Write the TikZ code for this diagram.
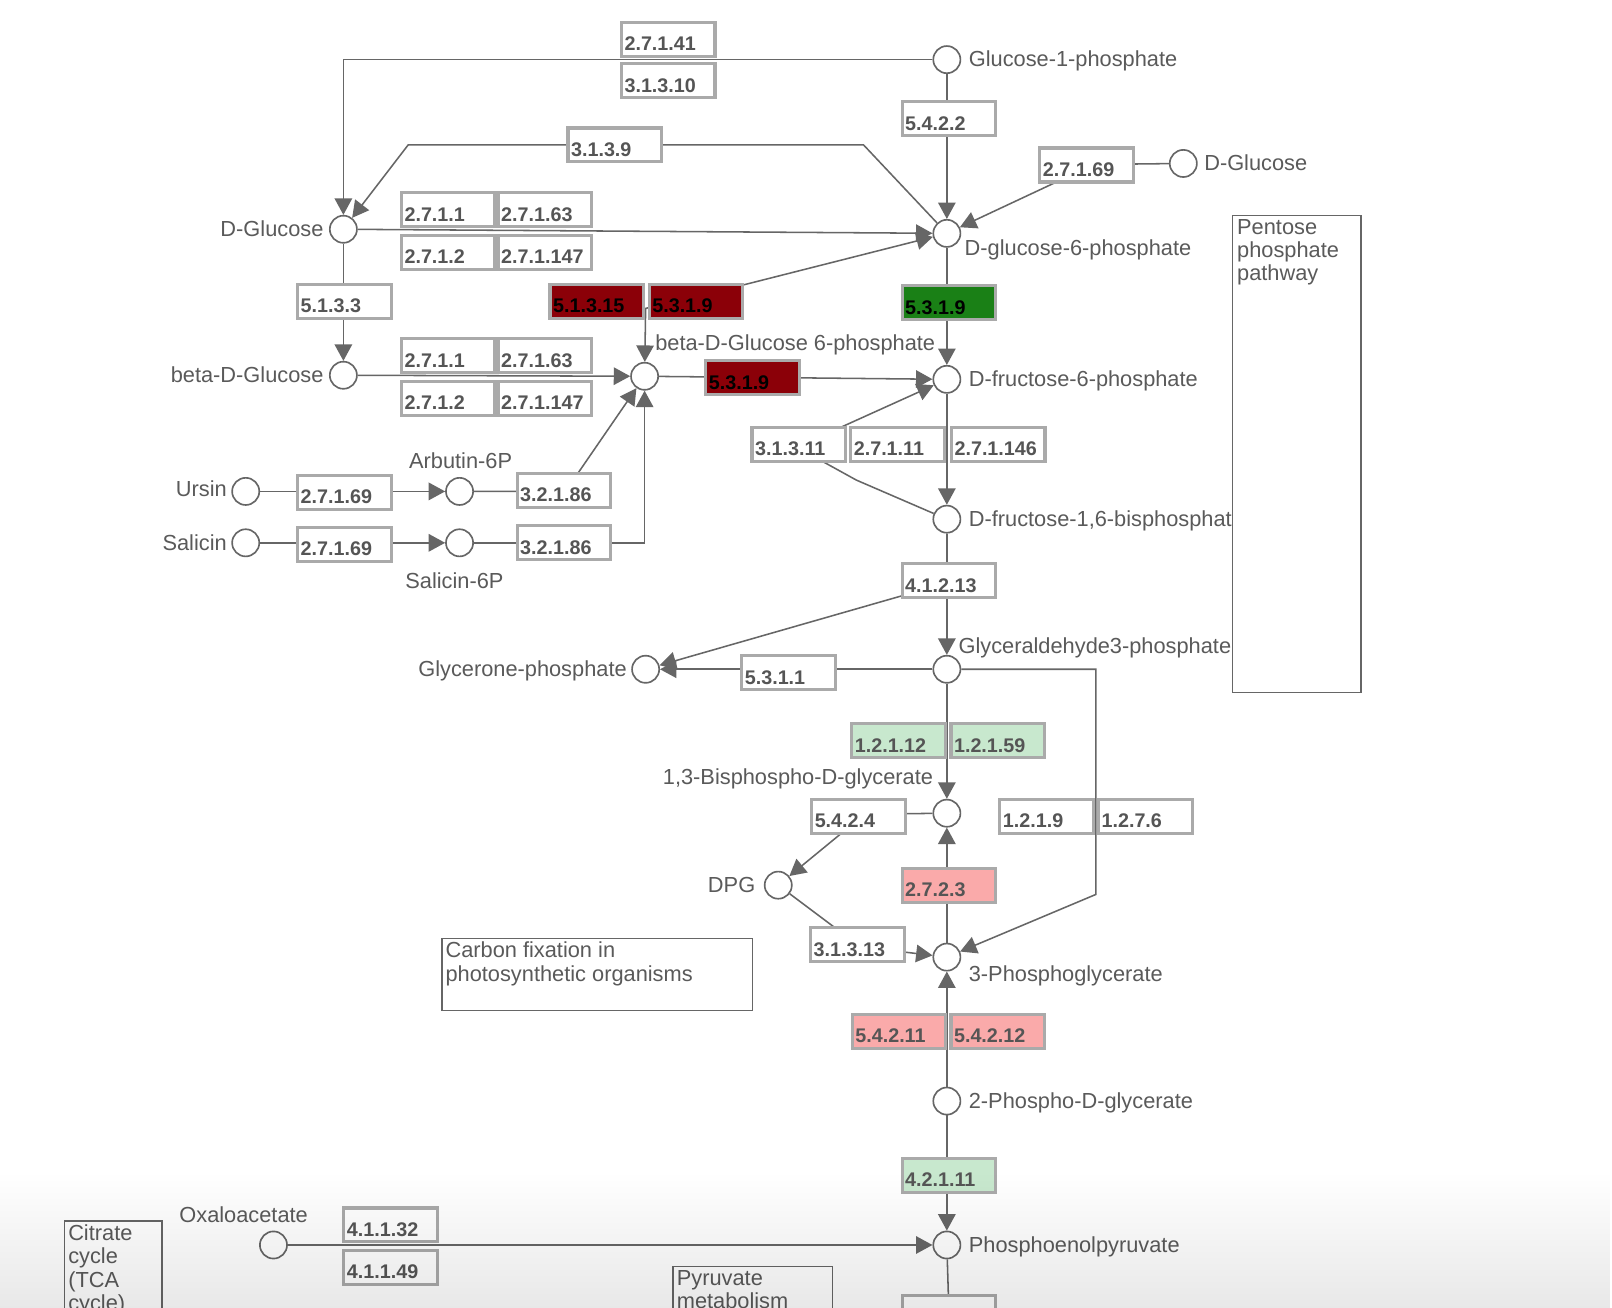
\documentclass[tikz,border=0pt]{standalone}
\usepackage{fontspec}
\setmainfont{Liberation Sans}
\usetikzlibrary{arrows.meta,fadings}
\definecolor{ln}{RGB}{102,102,102}
\definecolor{boxc}{RGB}{170,170,170}
\definecolor{etx}{RGB}{85,85,85}
\definecolor{ltx}{RGB}{90,90,90}
\definecolor{dred}{RGB}{139,0,8}
\definecolor{dgreen}{RGB}{26,128,22}
\definecolor{lgreen}{RGB}{200,232,206}
\definecolor{lpink}{RGB}{250,170,170}
\newcommand\cpdfont{\fontsize{10.6}{12.7}\selectfont}
\newcommand\enzfont{\fontsize{9.6}{11}\selectfont\bfseries}
\newcommand\mapfont{\fontsize{10.6}{11.3}\selectfont}
\tikzfading[name=fadedown, top color=transparent!100, bottom color=transparent!0]
\pgfdeclarelayer{bg}
\pgfdeclarelayer{edges}
\pgfdeclarelayer{fg}
\pgfsetlayers{bg,edges,main,fg}
\begin{document}
\begin{tikzpicture}[x=0.5pt,y=-0.5pt,
  >={Triangle[length=8pt,width=8.5pt]},
  cpd/.style={circle, draw=ln, line width=0.8pt, fill=white, minimum size=13.2pt, inner sep=0pt},
  enz/.style={draw=boxc, line width=1.5pt, fill=white, minimum width=45.5pt, minimum height=16.5pt,
    inner xsep=1.5pt, inner ysep=0pt, text width=42.5pt, align=left, text height=11pt, text depth=0pt,
    font=\enzfont, text=etx},
  dr/.style={fill=dred, text=black},
  dg/.style={fill=dgreen, text=black},
  lg/.style={fill=lgreen},
  pk/.style={fill=lpink},
  lab/.style={font=\cpdfont, text=ltx, inner sep=0pt},
  maptxt/.style={font=\mapfont, text=ltx, inner sep=0pt, align=left, anchor=north west},
  mapbox/.style={draw=ln, line width=0.75pt, anchor=north west, inner sep=0pt},
  edge/.style={draw=ln, line width=0.75pt}]
\useasboundingbox (0,0) rectangle (1568,1272);
\clip (0,0) rectangle (1568,1272);
\begin{pgfonlayer}{bg}
\fill[white] (0,0) rectangle (1568,1272);
\end{pgfonlayer}

% compounds
\node[cpd] (g1p) at (921,58) {};
\node[cpd] (dglcR) at (1151,159) {};
\node[cpd] (dglc) at (334,223) {};
\node[cpd] (g6p) at (921,227) {};
\node[cpd] (bglc) at (334,365) {};
\node[cpd] (bg6p) at (627,366) {};
\node[cpd] (f6p) at (921,369) {};
\node[cpd] (ursin) at (239,478) {};
\node[cpd] (arb) at (447,478) {};
\node[cpd] (salicin) at (239,528) {};
\node[cpd] (sal6p) at (447,528) {};
\node[cpd] (f16bp) at (921,505) {};
\node[cpd] (glyc) at (628,651) {};
\node[cpd] (ga3p) at (921,651) {};
\node[cpd] (bpg) at (921,791) {};
\node[cpd] (dpg) at (757,861) {};
\node[cpd] (pg3) at (921,931) {};
\node[cpd] (pg2) at (921,1071) {};
\node[cpd] (pep) at (921,1211) {};
\node[cpd] (oaa) at (266,1211) {};

% compound labels
\node[lab, anchor=base west] (l-g1p) at (942,65) {Glucose-1-phosphate};
\node[lab, anchor=base west] (l-dglcR) at (1171,166) {D-Glucose};
\node[lab, anchor=base east] (l-dglc) at (315,230) {D-Glucose};
\node[lab, anchor=base west] (l-g6p) at (938,249) {D-glucose-6-phosphate};
\node[lab, anchor=base east] (l-bglc) at (315,372) {beta-D-Glucose};
\node[lab, anchor=base west] (l-bg6p) at (637,341) {beta-D-Glucose 6-phosphate};
\node[lab, anchor=base west] (l-f6p) at (942,376) {D-fructose-6-phosphate};
\node[lab, anchor=base east] (l-ursin) at (221,483) {Ursin};
\node[lab, anchor=base] (l-arb) at (448,456) {Arbutin-6P};
\node[lab, anchor=base east] (l-salicin) at (221,535) {Salicin};
\node[lab, anchor=base] (l-sal6p) at (442,572) {Salicin-6P};
\node[lab, anchor=base west] (l-f16bp) at (942,512) {D-fructose-1,6-bisphosphate};
\node[lab, anchor=base east] (l-glyc) at (610,658) {Glycerone-phosphate};
\node[lab, anchor=base west] (l-ga3p) at (932,636) {Glyceraldehyde3-phosphate};
\node[lab, anchor=base east] (l-bpg) at (908,763) {1,3-Bisphospho-D-glycerate};
\node[lab, anchor=base east] (l-dpg) at (735,868) {DPG};
\node[lab, anchor=base west] (l-pg3) at (942,955) {3-Phosphoglycerate};
\node[lab, anchor=base west] (l-pg2) at (942,1078) {2-Phospho-D-glycerate};
\node[lab, anchor=base west] (l-pep) at (942,1218) {Phosphoenolpyruvate};
\node[lab, anchor=base] (l-oaa) at (237,1189) {Oxaloacetate};

% enzymes
\node[enz] (e2714a) at (650,38.5) {2.7.1.41};
\node[enz] (e31310) at (650,78.5) {3.1.3.10};
\node[enz] (e5422) at (923,115.5) {5.4.2.2};
\node[enz] (e3139) at (598,141) {3.1.3.9};
\node[enz] (e27169a) at (1057,160.5) {2.7.1.69};
\node[enz] (e2711a) at (436,204) {2.7.1.1};
\node[enz] (e27163a) at (530,204) {2.7.1.63};
\node[enz] (e2712a) at (436,245.5) {2.7.1.2};
\node[enz] (e271147a) at (530,245.5) {2.7.1.147};
\node[enz] (e5133) at (335,293) {5.1.3.3};
\node[enz,dr] (e51315) at (580.5,293) {5.1.3.15};
\node[enz,dr] (e5319a) at (677,293) {5.3.1.9};
\node[enz,dg] (e5319g) at (923,294.5) {5.3.1.9};
\node[enz] (e2711b) at (436,346) {2.7.1.1};
\node[enz] (e27163b) at (530,346) {2.7.1.63};
\node[enz] (e2712b) at (436,387.5) {2.7.1.2};
\node[enz] (e271147b) at (530,387.5) {2.7.1.147};
\node[enz,dr] (e5319b) at (732,367.5) {5.3.1.9};
\node[enz] (e31311) at (777,432.5) {3.1.3.11};
\node[enz] (e27111) at (873,432.5) {2.7.1.11};
\node[enz] (e271146) at (971,432.5) {2.7.1.146};
\node[enz] (e27169b) at (335,479) {2.7.1.69};
\node[enz] (e32186a) at (548.5,477) {3.2.1.86};
\node[enz] (e27169c) at (335,529.5) {2.7.1.69};
\node[enz] (e32186b) at (548.5,528) {3.2.1.86};
\node[enz] (e41213) at (923,565) {4.1.2.13};
\node[enz] (e5311) at (767,654.5) {5.3.1.1};
\node[enz,lg] (e12112) at (874,720.5) {1.2.1.12};
\node[enz,lg] (e12159) at (970.5,720.5) {1.2.1.59};
\node[enz] (e5424) at (835,794) {5.4.2.4};
\node[enz] (e1219) at (1018,794) {1.2.1.9};
\node[enz] (e1276) at (1114,794) {1.2.7.6};
\node[enz,pk] (e2723) at (923,861) {2.7.2.3};
\node[enz] (e31313) at (834,919) {3.1.3.13};
\node[enz,pk] (e54211) at (874.5,1003.5) {5.4.2.11};
\node[enz,pk] (e54212) at (970.5,1003.5) {5.4.2.12};
\node[enz,lg] (e42111) at (923,1143.5) {4.2.1.11};
\node[enz] (e41132) at (380,1191.5) {4.1.1.32};
\node[enz] (e41149) at (380,1232.5) {4.1.1.49};
\node[enz] (ebot) at (923,1277) {};

% bend points
\coordinate (c1) at (840,141);
\coordinate (c2) at (397,141);
\coordinate (c3) at (1064,160);
\coordinate (c4) at (700,283);
\coordinate (c5) at (628,300);
\coordinate (c6) at (550,478);
\coordinate (c7) at (833,467);
\coordinate (c8) at (775,435);
\coordinate (c9) at (921,567);
\coordinate (c10) at (1066,651);
\coordinate (c11) at (1066,870);
\coordinate (c12) at (841,792);
\coordinate (c13) at (837,921);

\begin{pgfonlayer}{edges}
\draw[edge,->] (g1p) -| (dglc);
\draw[edge,->] (g1p) -- (g6p);
\draw[edge,->] (g6p) -- (c1) -- (c2) -- (dglc);
\draw[edge,->] (dglcR) -- (c3) -- (g6p);
\draw[edge,->] (dglc) -- (g6p);
\draw[edge,<->] (g6p) -- (c4) -- (c5) -- (bg6p);
\draw[edge,->] (g6p) -- (f6p);
\draw[edge,->] (dglc) -- (bglc);
\draw[edge,->] (bglc) -- (bg6p);
\draw[edge,->] (bg6p) -- (f6p);
\draw[edge,->] (ursin) -- (arb);
\draw[edge,->] (salicin) -- (sal6p);
\draw[edge,->] (arb) -- (c6) -- (bg6p);
\draw[edge,->] (sal6p) -| (bg6p);
\draw[edge,->] (f6p) -- (f16bp);
\draw[edge,->] (f16bp) -- (c7) -- (c8) -- (f6p);
\draw[edge,->] (f16bp) -- (ga3p);
\draw[edge,->] (f16bp) -- (c9) -- (glyc);
\draw[edge,->] (ga3p) -- (glyc);
\draw[edge,->] (ga3p) -- (bpg);
\draw[edge,->] (ga3p) -- (c10) -- (c11) -- (pg3);
\draw[edge,->] (pg3) -- (bpg);
\draw[edge,->] (bpg) -- (c12) -- (dpg);
\draw[edge,->] (dpg) -- (c13) -- (pg3);
\draw[edge,->] (pg2) -- (pg3);
\draw[edge,->] (pg2) -- (pep);
\draw[edge,->] (oaa) -- (pep);
\draw[edge] (pep) -- (ebot);
\end{pgfonlayer}

% map boxes
\node[mapbox, fill=white, minimum width=62.5pt, minimum height=232pt] (ppp) at (1198,209) {};
\node[maptxt] (ppp-t) at (1203,213) {Pentose\\phosphate\\pathway};
\node[mapbox, minimum width=151pt, minimum height=35pt] (cfix) at (429,912) {};
\node[maptxt] (cfix-t) at (433,916) {Carbon fixation in\\photosynthetic organisms};
\node[mapbox, minimum width=47.5pt, minimum height=70pt] (tca) at (62,1187) {};
\node[maptxt] (tca-t) at (66,1191) {Citrate\\cycle\\(TCA\\cycle)};
\node[mapbox, minimum width=77.5pt, minimum height=50pt] (pyr) at (654,1231) {};
\node[maptxt] (pyr-t) at (658,1235) {Pyruvate\\metabolism};

\begin{pgfonlayer}{fg}
\fill[black, fill opacity=0.09, path fading=fadedown] (0,1140) rectangle (1568,1272);
\end{pgfonlayer}
\end{tikzpicture}
\end{document}
